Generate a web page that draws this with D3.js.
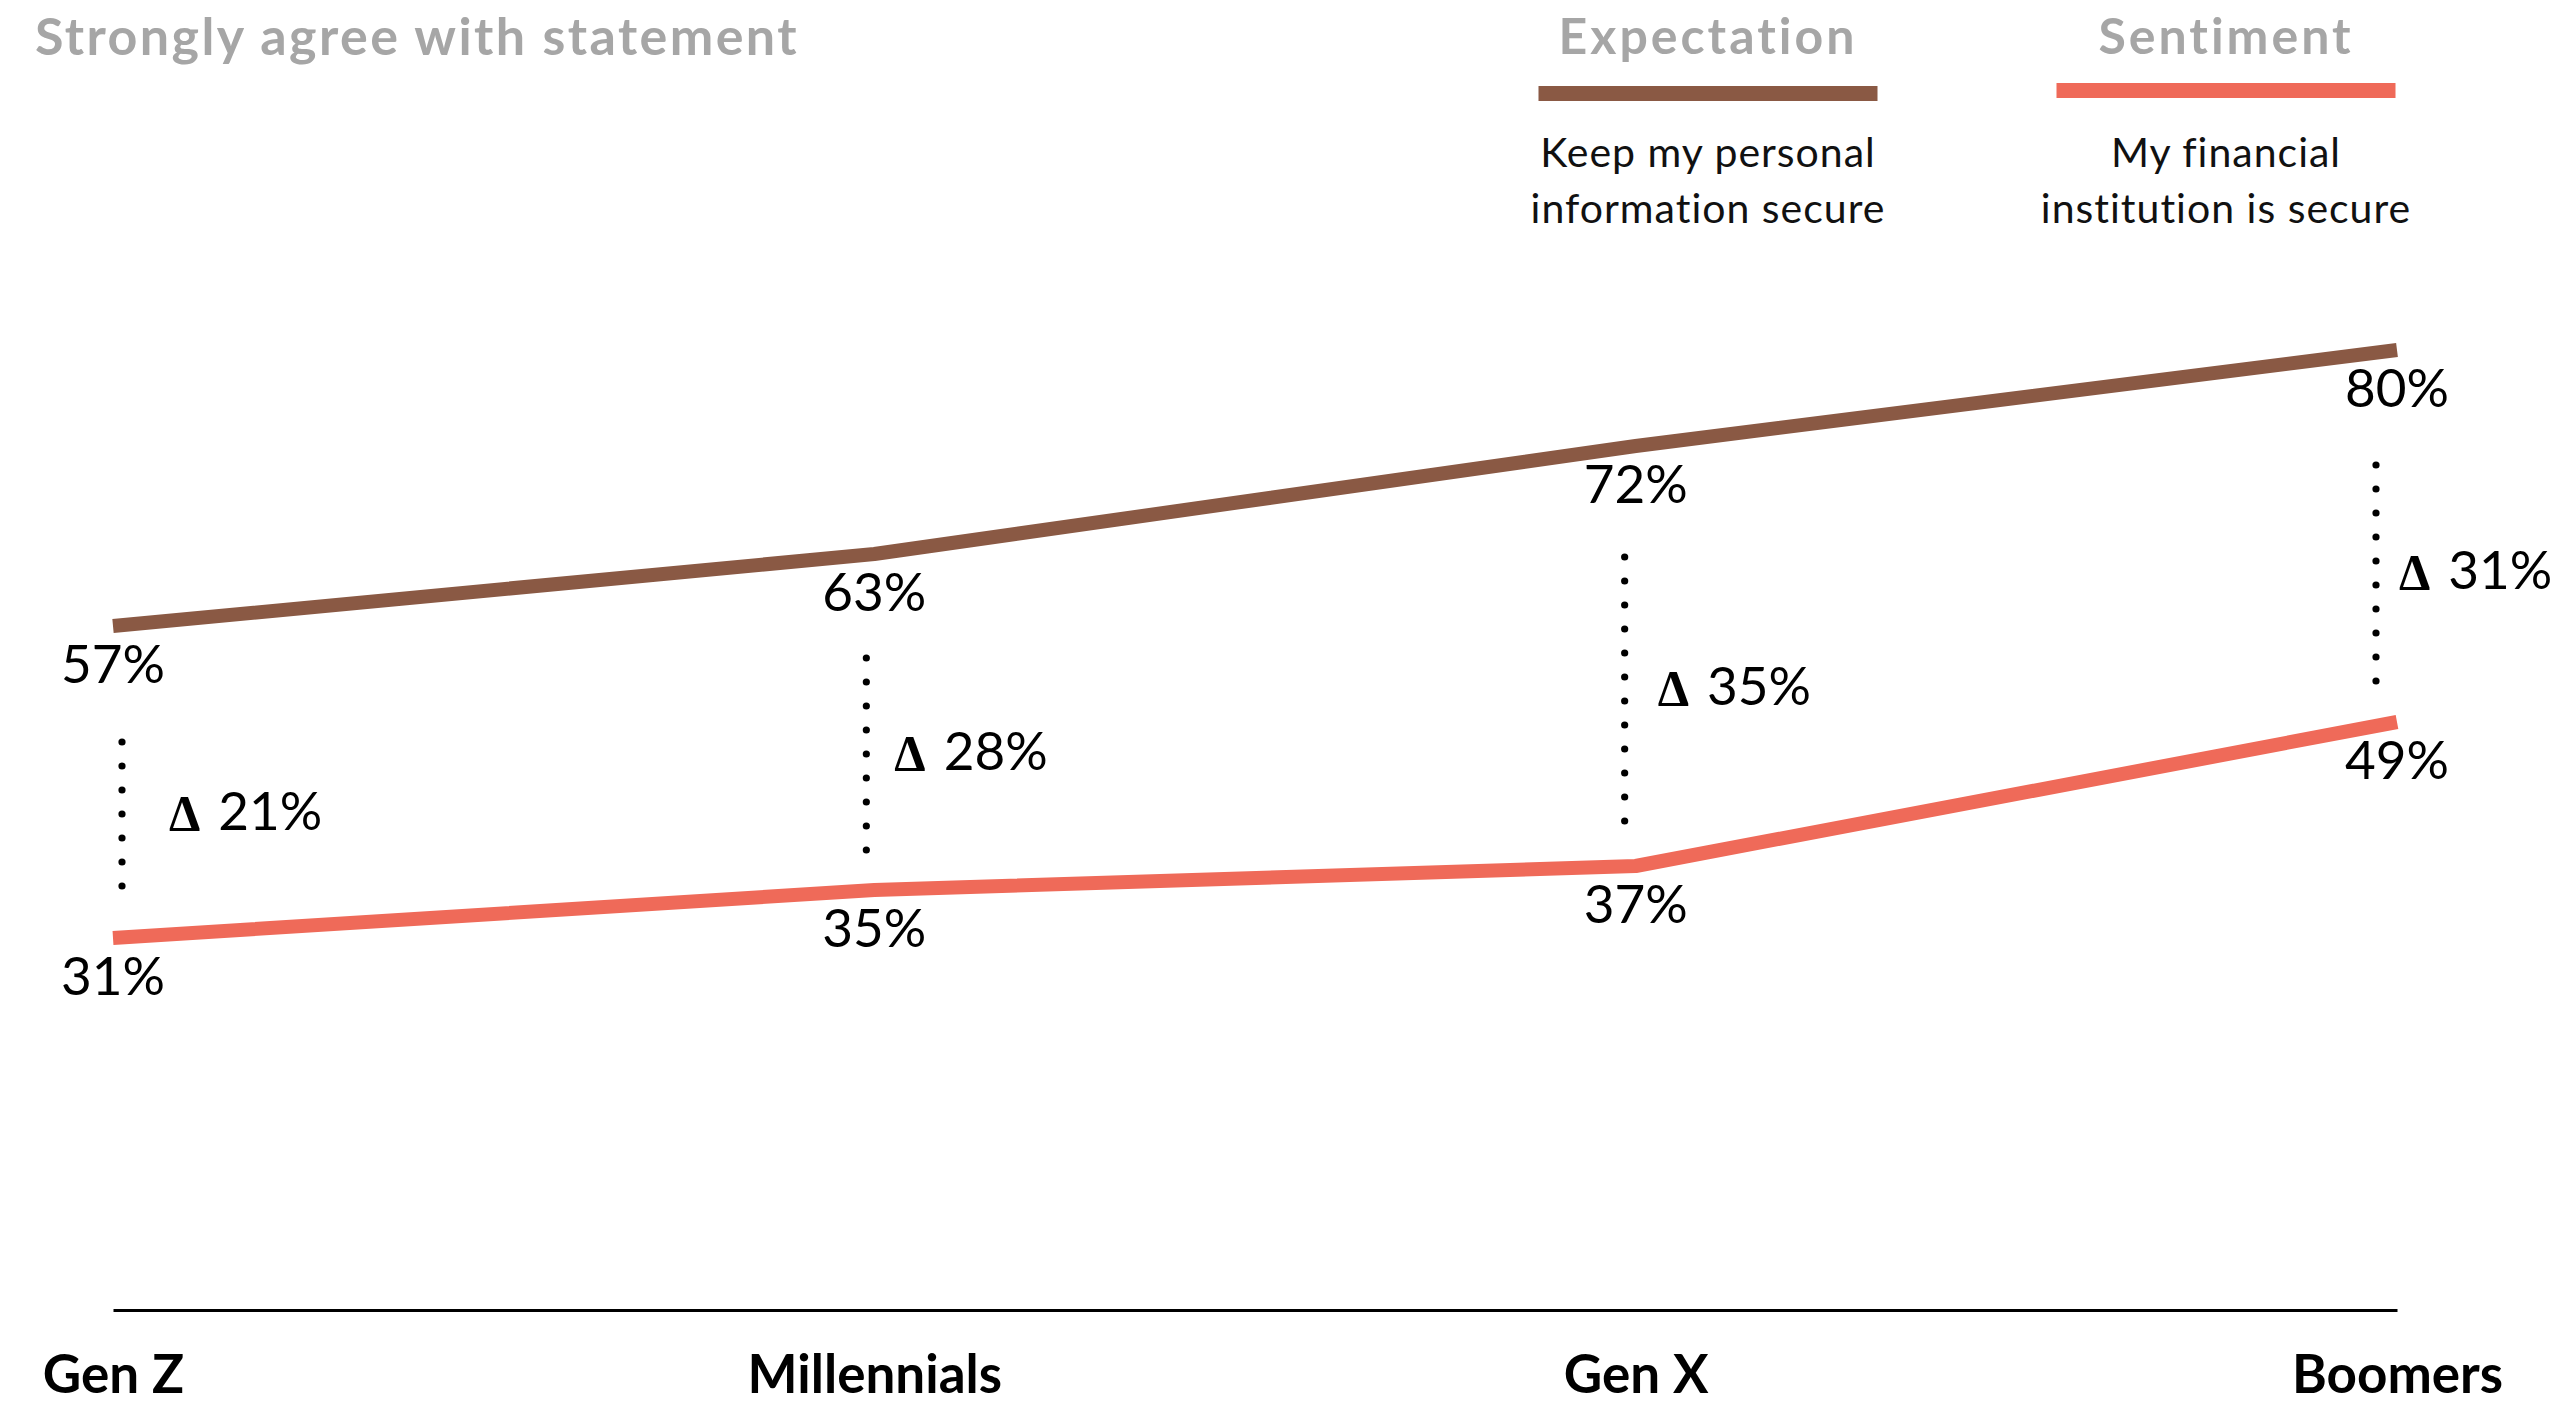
<!DOCTYPE html>
<html>
<head>
<meta charset="utf-8">
<script src="https://cdn.jsdelivr.net/npm/d3@7/dist/d3.min.js"></script>
<style>
  html, body { margin: 0; padding: 0; background: #ffffff; }
  svg { display: block; }
  text { font-family: Lato, "Open Sans", sans-serif; }
</style>
</head>
<body>
<svg id="chart" width="2557" height="1403"></svg>
<script>
// Share of respondents who strongly agree, by generation
const categories = ["Gen Z", "Millennials", "Gen X", "Boomers"];
const expectation = [57, 63, 72, 80];   // "Keep my personal information secure"
const sentiment = [31, 35, 37, 49];     // "My financial institution is secure"
const gapLabels = ["21%", "28%", "35%", "31%"];

const seriesNames = ["Expectation", "Sentiment"];
const seriesNotes = [
  ["Keep my personal", "information secure"],
  ["My financial", "institution is secure"]
];
const chartTitle = "Strongly agree with statement";

const colors = { Expectation: "#8a5944", Sentiment: "#ef6a59" };

const svg = d3.select("#chart");

const x = d3.scalePoint().domain(categories).range([113, 2397]);
const y = d3.scaleLinear().domain([0, 100]).range([1310, 110]);

// Title
svg.append("text")
  .attr("x", 35).attr("y", 55)
  .attr("fill", "#a6a6a6")
  .attr("font-weight", 700)
  .attr("font-size", 52)
  .attr("letter-spacing", 2.4)
  .text(chartTitle);

// Legend
const legendCenters = [1708, 2226];
const legendBarW = 339;
seriesNames.forEach((name, i) => {
  const g = svg.append("g").attr("transform", `translate(${legendCenters[i]},0)`);
  g.append("text")
    .attr("x", 0).attr("y", 54)
    .attr("text-anchor", "middle")
    .attr("fill", "#a6a6a6")
    .attr("font-weight", 700)
    .attr("font-size", 50)
    .attr("letter-spacing", 3)
    .text(name);
  g.append("rect")
    .attr("x", -legendBarW / 2).attr("y", i === 0 ? 86 : 83)
    .attr("width", legendBarW).attr("height", 15)
    .attr("fill", colors[name]);
  seriesNotes[i].forEach((line, j) => {
    g.append("text")
      .attr("x", 0).attr("y", 167 + j * 56)
      .attr("text-anchor", "middle")
      .attr("fill", "#111")
      .attr("font-size", 41)
      .attr("letter-spacing", 1)
      .text(line);
  });
});

// Category axis
const axis = svg.append("g")
  .attr("transform", `translate(0,${y(0)})`)
  .call(d3.axisBottom(x).tickSize(0).tickSizeOuter(0));
axis.select(".domain").attr("stroke", "#000").attr("stroke-width", 3);
axis.selectAll(".tick text")
  .attr("y", 83).attr("dy", 0)
  .attr("fill", "#000")
  .attr("font-family", "Lato, sans-serif")
  .attr("font-weight", 700)
  .attr("font-size", 53);

// Series lines
const line = d3.line()
  .x((d, i) => x(categories[i]))
  .y(d => y(d));

[["Expectation", expectation], ["Sentiment", sentiment]].forEach(([name, values]) => {
  svg.append("path")
    .datum(values)
    .attr("d", line)
    .attr("fill", "none")
    .attr("stroke", colors[name])
    .attr("stroke-width", 14)
    .attr("stroke-linejoin", "round")
    .attr("stroke-linecap", "butt");

  svg.append("g").selectAll("text")
    .data(values)
    .join("text")
    .attr("x", (d, i) => x(categories[i]))
    .attr("y", d => y(d) + 57)
    .attr("text-anchor", "middle")
    .attr("fill", "#000")
    .attr("font-size", 53)
    .text(d => d + "%");
});

// Gap markers: dotted connector and delta label between the two series
const dotStep = 24;
const markerLayout = [
  { dx: 9,   top: 116, bottom: 53, labelGap: 47 },
  { dx: -8,  top: 104, bottom: 40, labelGap: 28 },
  { dx: -11, top: 111, bottom: 45, labelGap: 33 },
  { dx: -21, top: 115, bottom: 41, labelGap: 23 }
];

categories.forEach((c, i) => {
  const m = markerLayout[i];
  const cx = x(c) + m.dx;
  const y0 = y(expectation[i]) + m.top;
  const y1 = y(sentiment[i]) - m.bottom;
  const dots = d3.range(y0, y1 + 2, dotStep);
  svg.append("g").selectAll("circle")
    .data(dots)
    .join("circle")
    .attr("cx", cx).attr("cy", d => d)
    .attr("r", 3.6)
    .attr("fill", "#000");

  const mid = (dots[0] + dots[dots.length - 1]) / 2;
  const t = svg.append("text")
    .attr("x", cx + m.labelGap)
    .attr("y", mid + 16)
    .attr("fill", "#000")
    .attr("font-size", 53);
  t.append("tspan")
    .attr("font-family", "'Liberation Serif', 'DejaVu Serif', serif")
    .attr("font-weight", 700)
    .attr("font-size", 50)
    .text("\u0394");
  t.append("tspan")
    .attr("dx", 18)
    .text(gapLabels[i]);
});
</script>
</body>
</html>
